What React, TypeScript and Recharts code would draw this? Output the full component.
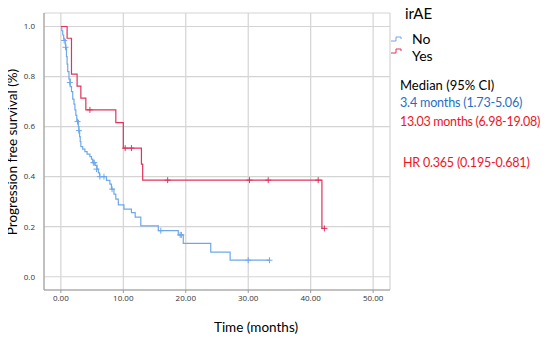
import React from "react";
import {
  ComposedChart,
  Line,
  Scatter,
  XAxis,
  YAxis,
  CartesianGrid,
} from "recharts";

// ---- Data ----
const noTimes = [0, 0.15, 0.3, 0.45, 0.7, 0.8, 0.9, 1.0, 1.1, 1.3, 1.5, 1.7, 1.9, 2.1, 2.25, 2.4, 2.55, 2.8, 2.9, 3.0, 3.1, 3.2, 3.5, 3.85, 4.2, 4.65, 4.9, 5.1, 5.5, 5.8, 6.0, 6.2, 7.3, 7.85, 8.1, 8.5, 8.8, 9.2, 10.1, 11.3, 11.9, 12.8, 15.6, 18.8, 19.6, 24.0, 27.1, 33.4];
const noSurv = [1.0, 0.983, 0.966, 0.949, 0.93, 0.915, 0.88, 0.85, 0.82, 0.79, 0.76, 0.74, 0.71, 0.69, 0.667, 0.645, 0.625, 0.6, 0.58, 0.56, 0.54, 0.52, 0.51, 0.5, 0.49, 0.48, 0.47, 0.456, 0.445, 0.43, 0.415, 0.4, 0.385, 0.37, 0.35, 0.33, 0.31, 0.287, 0.27, 0.256, 0.238, 0.203, 0.184, 0.167, 0.133, 0.098, 0.066, 0.066];
const noCensorTimes = [0.53, 0.75, 1.44, 2.67, 2.88, 5.2, 5.35, 5.7, 6.25, 6.9, 8.2, 16.0, 19.1, 19.3, 30.0, 33.4];
const noCensorSurv = [0.944, 0.917, 0.776, 0.62, 0.584, 0.456, 0.456, 0.43, 0.4, 0.4, 0.35, 0.184, 0.167, 0.167, 0.066, 0.066];

const yesTimes = [0, 1.0, 1.7, 2.6, 3.2, 4.0, 8.8, 10.0, 12.9, 13.1, 41.8, 42.2];
const yesSurv = [1.0, 0.953, 0.81, 0.762, 0.714, 0.667, 0.616, 0.514, 0.45, 0.386, 0.193, 0.193];
const yesCensorTimes = [4.65, 10.3, 11.3, 17.1, 30.2, 33.2, 41.2, 42.2];
const yesCensorSurv = [0.667, 0.514, 0.514, 0.386, 0.386, 0.386, 0.386, 0.193];

const xTicks = [0, 10, 20, 30, 40, 50];
const yTicks = [0, 0.2, 0.4, 0.6, 0.8, 1.0];

const groupLabels = ["No", "Yes"];
const medianLines = ["3.4 months (1.73-5.06)", "13.03 months (6.98-19.08)"];
const hrText = "HR 0.365 (0.195-0.681)";

const BLUE = "#6fa8ea";
const RED = "#e2325e";

const toPoints = (ts: number[], ss: number[]) => ts.map((t, i) => ({ t, s: ss[i] }));
const noData = toPoints(noTimes, noSurv);
const yesData = toPoints(yesTimes, yesSurv);
const noCensor = toPoints(noCensorTimes, noCensorSurv);
const yesCensor = toPoints(yesCensorTimes, yesCensorSurv);

const plus = (color: string) => (props: any) => {
  const { cx, cy } = props;
  if (cx == null || cy == null) return <g />;
  return (
    <path
      d={`M${cx - 3},${cy}H${cx + 3}M${cx},${cy - 3}V${cy + 3}`}
      stroke={color}
      strokeWidth={1}
      fill="none"
    />
  );
};

const FONT = "Lato, 'Open Sans', sans-serif";
const TICKFONT = "'Open Sans', sans-serif";

const Txt = ({ x, y, color, size, spacing = 0, children }: any) => (
  <div
    style={{
      position: "absolute",
      left: x,
      top: y - 8,
      height: 16,
      lineHeight: "16px",
      fontSize: size,
      letterSpacing: spacing,
      color,
      fontFamily: FONT,
      whiteSpace: "nowrap",
    }}
  >
    {children}
  </div>
);

const StepIcon = ({ x, y, color }: any) => (
  <svg style={{ position: "absolute", left: x, top: y }} width={11} height={6}>
    <path d="M0,5H5V1H10V3" stroke={color} fill="none" strokeWidth={1} />
  </svg>
);

export default function App() {
  return (
    <div style={{ position: "relative", width: 542, height: 331 }}>
      <ComposedChart
        width={542}
        height={331}
        margin={{ top: 5, right: 160, left: 0, bottom: 0 }}
      >
        <CartesianGrid stroke="#d4d4d4" strokeWidth={1.2} />
        <XAxis
          dataKey="t"
          type="number"
          domain={[-2.7, 52.7]}
          ticks={xTicks}
          tickFormatter={(v: number) => v.toFixed(2)}
          allowDataOverflow
          height={49}
          stroke="#9a9a9a"
          tickSize={3}
          tick={{ fontSize: 8, fill: "#333", fontFamily: TICKFONT }}
        />
        <YAxis
          dataKey="s"
          type="number"
          domain={[-0.053, 1.054]}
          ticks={yTicks}
          tickFormatter={(v: number) => v.toFixed(1)}
          allowDataOverflow
          width={36}
          stroke="#9a9a9a"
          tickLine={false}
          tickMargin={3}
          tick={{ fontSize: 8, fill: "#333", fontFamily: TICKFONT }}
        />
        <Line
          data={noData}
          dataKey="s"
          type="stepAfter"
          stroke={BLUE}
          strokeWidth={1.2}
          dot={false}
          isAnimationActive={false}
        />
        <Line
          data={yesData}
          dataKey="s"
          type="stepAfter"
          stroke={RED}
          strokeWidth={1.2}
          dot={false}
          isAnimationActive={false}
        />
        <Scatter data={noCensor} dataKey="s" shape={plus(BLUE)} isAnimationActive={false} />
        <Scatter data={yesCensor} dataKey="s" shape={plus(RED)} isAnimationActive={false} />
      </ComposedChart>

      <div
        style={{
          position: "absolute",
          left: 4,
          top: 144,
          transform: "translate(-50%, -50%) rotate(-90deg)",
          fontSize: 13.5,
          fontFamily: FONT,
          whiteSpace: "nowrap",
          color: "#000",
        }}
      >
        Progression free survival (%)
      </div>
      <div
        style={{
          position: "absolute",
          left: 248,
          top: 319,
          transform: "translate(-50%, -50%)",
          fontSize: 13.5,
          fontFamily: FONT,
          whiteSpace: "nowrap",
          color: "#000",
        }}
      >
        Time (months)
      </div>

      <Txt x={397} y={5} size={15} color="#000">irAE</Txt>
      <StepIcon x={383} y={28} color={BLUE} />
      <StepIcon x={383} y={40} color={RED} />
      <Txt x={404} y={30.5} size={14} color="#000">{groupLabels[0]}</Txt>
      <Txt x={404} y={48} size={14} color="#000">{groupLabels[1]}</Txt>
      <Txt x={392} y={77} size={13} color="#000">Median (95% CI)</Txt>
      <Txt x={392} y={95} size={12.6} spacing={-0.2} color="#1f6fc5">{medianLines[0]}</Txt>
      <Txt x={392} y={114} size={12.5} spacing={-0.3} color="#f0141e">{medianLines[1]}</Txt>
      <Txt x={395} y={155} size={12.5} spacing={-0.2} color="#f0141e">{hrText}</Txt>
    </div>
  );
}
